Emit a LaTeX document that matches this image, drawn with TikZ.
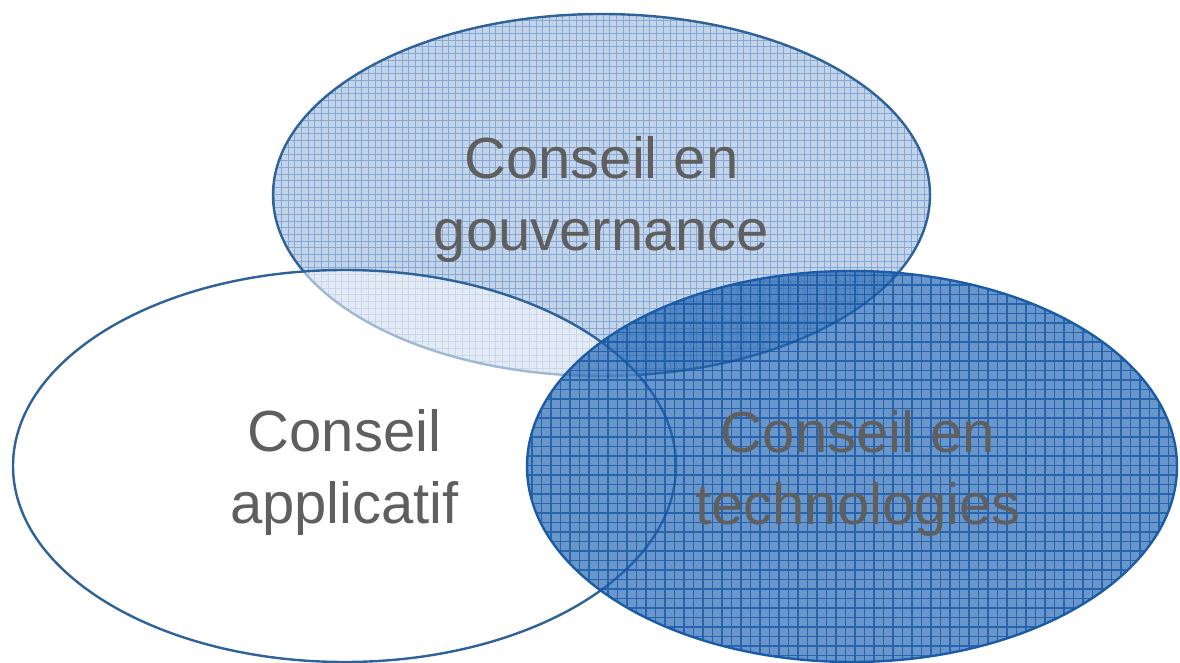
\documentclass[tikz,border=0pt]{standalone}
\usepackage{fontspec}
\setmainfont{Liberation Sans}
\usepackage{xcolor}
\usetikzlibrary{shapes.geometric}
\definecolor{edgeblue}{HTML}{2E6299}
\definecolor{techedge}{HTML}{1A5CA6}
\definecolor{govfill}{HTML}{C4D4E9}
\definecolor{govgrid}{HTML}{86A8D6}
\definecolor{techfill}{HTML}{2266B2}
\definecolor{techgrid}{HTML}{0E50A0}
\definecolor{labelgray}{HTML}{5F5F5F}

\begin{document}
\begin{tikzpicture}[x=0.5pt, y=-0.5pt, line width=1.2pt,
  field/.style = {ellipse, draw=edgeblue, inner sep=0pt},
  caption/.style = {align=center, text=labelgray, inner sep=0pt,
    font=\fontsize{29}{36}\selectfont},
  gov/.style = {field, minimum width=328.5pt, minimum height=181pt},
  app/.style = {field, fill=white, fill opacity=0.55,
    minimum width=331.5pt, minimum height=196pt},
  tech/.style = {field, draw=techedge, minimum width=325pt, minimum height=195.5pt}]

    \useasboundingbox (0,0) rectangle (1180,663);
    \coordinate (gc) at (601.5,195);
    \coordinate (ac) at (344.5,466);
    \coordinate (tc) at (852,466.5);

    % gouvernance: light fill with fine grid
    \begin{scope}
      \clip (gc) ellipse [x radius=328.5, y radius=181];
      \fill[govfill] (0,0) rectangle (1180,663);
      \draw[govgrid, line width=0.5pt, step=3.35pt] (0,0) grid (1180,663);
    \end{scope}
    \node[gov](gov) at (gc) {};
    \node[caption](gov-text) at ([yshift=-2.5pt]gov.center) {Conseil en\\gouvernance};

    \node[app](app) at (ac) {};
    \node[caption](app-text) at ([yshift=-3.5pt]app.center) {Conseil\\applicatif};

    % technologies: darker see-through fill with grid
    \begin{scope}
      \clip (tc) ellipse [x radius=325, y radius=195.5];
      \fill[techfill, opacity=0.68] (0,0) rectangle (1180,663);
      \draw[techgrid, line width=0.6pt, opacity=0.7, step=4.75pt] (0,0) grid (1180,663);
    \end{scope}
    \node[tech](tech) at (tc) {};
    \node[caption](tech-text) at ([xshift=3pt, yshift=-3.5pt]tech.center) {Conseil en\\technologies};

\end{tikzpicture}
\end{document}
